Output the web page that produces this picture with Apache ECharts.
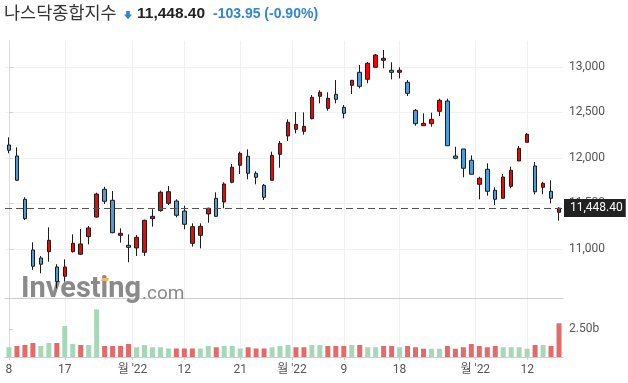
<!DOCTYPE html>
<html><head><meta charset="utf-8">
<script src="https://cdn.jsdelivr.net/npm/echarts@6/dist/echarts.min.js"></script>
<style>html,body{margin:0;padding:0;background:#fff}#c{width:628px;height:383px}</style>
</head><body><div id="c"></div>
<script>
// ---- data ----
const opens  = [12142,12021,11545,10988,10900,10969,10801,10699,10969,10941,11134,11350,11655,11534,11149,11039,11010,10963,11332,11420,11501,11526,11416,11061,11149,11384,11556,11515,11732,11919,12018,11831,11699,11754,12039,12241,12314,12292,12431,12677,12545,12699,12556,12798,12941,12864,12996,13073,12963,12941,12831,12523,12354,12376,12512,12625,12021,12098,11974,11710,11875,11644,11556,11688,11966,12171,11911,11677,11633,11402];
const closes = [12084,11754,11332,10809,10831,11094,10640,10801,11061,11054,11230,11603,11523,11178,11171,11017,11127,11314,11358,11622,11629,11369,11270,11244,11248,11446,11358,11713,11897,12050,11831,11787,11567,12028,12160,12391,12369,12347,12666,12721,12655,12644,12490,12853,12787,13040,13131,13095,12941,12963,12710,12376,12380,12424,12633,12134,11996,11886,11820,11776,11633,11545,11790,11864,12105,12259,11628,11721,11556,11448];
const lows   = [12050,11746,11317,10768,10732,10859,10567,10640,10960,10933,11050,11343,11493,11172,11068,10853,10922,10922,11244,11409,11482,11347,11215,11024,11006,11288,11350,11446,11721,11823,11765,11710,11537,11754,11892,12186,12270,12255,12424,12600,12519,12600,12435,12702,12765,12820,12990,12985,12864,12875,12680,12354,12350,12343,12460,12134,11985,11787,11820,11545,11585,11482,11556,11666,11966,12171,11600,11600,11501,11310];
const highs  = [12226,12116,11567,11072,10922,11237,10831,10885,11160,11218,11251,11618,11683,11636,11226,11160,11152,11321,11435,11640,11691,11545,11475,11281,11281,11453,11622,11732,11933,12068,12094,11853,11713,12068,12186,12424,12504,12501,12691,12743,12721,12856,12581,12856,13021,13054,13142,13186,13051,12996,12856,12537,12490,12497,12651,12651,12123,12098,12028,11793,11941,11677,11823,11903,12131,12274,11955,11738,11754,11457];
// volume in billions
const volumes = [0.87,0.98,1.07,1.25,0.98,1.25,1.25,2.77,1.16,1.07,1.07,4.26,0.98,0.98,0.98,1.16,0.87,1.07,0.87,0.87,0.76,0.76,0.76,0.76,0.76,0.98,0.87,0.98,0.98,0.76,0.87,0.76,0.76,0.87,0.98,1.07,0.87,0.87,1.07,1.07,0.98,0.98,0.98,1.07,1.07,0.87,0.87,0.98,0.98,0.87,0.98,0.87,0.74,0.74,0.74,0.98,0.74,0.87,1.16,0.98,0.87,0.98,0.87,0.87,0.87,0.74,1.07,1.07,0.98,3.01];
// 1 = close above previous close (green volume bar), 0 = below (red)
const volumeUp = [1,0,0,0,1,1,0,1,1,0,1,1,0,0,0,0,1,1,1,1,1,0,0,0,1,1,0,1,1,1,0,0,0,1,1,1,0,0,1,1,0,0,0,1,0,1,1,0,0,1,0,0,0,1,1,0,0,0,0,0,0,0,1,1,1,1,0,1,0,0];
const xTickPositions = [0, 7, 15.5, 22, 29, 35.5, 42, 49, 58.5, 65];
const xTickLabels = ['8', '17', "월 '22", '12', '21', "월 '22", '9', '18', "월 '22", '12'];
const priceTicks = [11000, 11500, 12000, 12500, 13000];
const volumeTicks = [2.5];
const lastPriceText = '11,448.40';
const lastPrice = 11448.40;
const titleName = '나스닥종합지수';
const changeText = '-103.95 (-0.90%)';

// ---- chart ----
const chart = echarts.init(document.getElementById('c'), null, {renderer: 'canvas'});
const FONT = 'Roboto, "Noto Sans CJK KR", sans-serif';
const candleData = opens.map((o, i) => [i, o, closes[i], lows[i], highs[i]]);
const volData = volumes.map((v, i) => ({
  value: [i, v],
  itemStyle: {color: volumeUp[i] ? '#a6d8b8' : '#e36a6a'}
}));
const fmtNum = v => Number(v).toLocaleString('en-US');
const xLabelFor = v => { const k = xTickPositions.indexOf(v); return k >= 0 ? xTickLabels[k] : ''; };

const gridLineColor = '#f1f1f1';
const commonX = {
  type: 'value', min: -0.5, max: 69.5,
  splitLine: {show: true, lineStyle: {color: gridLineColor, width: 1}},
  axisTick: {show: false, customValues: xTickPositions},
  axisLabel: {show: false, customValues: xTickPositions}
};

chart.setOption({
  animation: false,
  textStyle: {fontFamily: FONT},
  grid: [
    {left: 5, right: 65, top: 41, bottom: 85, outerBoundsMode: 'none', containLabel: false},
    {left: 5, right: 65, top: 299, bottom: 26, outerBoundsMode: 'none', containLabel: false}
  ],
  xAxis: [
    Object.assign({}, commonX, {
      gridIndex: 0, position: 'bottom',
      axisLine: {show: true, onZero: false, lineStyle: {color: '#cfcfcf', width: 1}}
    }),
    Object.assign({}, commonX, {
      gridIndex: 1, position: 'bottom',
      axisLine: {show: true, onZero: false, lineStyle: {color: '#cfcfcf', width: 1}},
      axisTick: {show: true, length: 3, customValues: xTickPositions, lineStyle: {color: '#cfcfcf'}},
      axisLabel: {show: true, customValues: xTickPositions, formatter: xLabelFor,
        color: '#555', fontSize: 12, margin: 7, fontFamily: FONT, hideOverlap: false}
    })
  ],
  yAxis: [
    {
      type: 'value', gridIndex: 0, position: 'right', min: 10460, max: 13285,
      axisLine: {show: true, lineStyle: {color: '#dcdcdc'}},
      axisTick: {show: true, length: 4, customValues: priceTicks, lineStyle: {color: '#cfcfcf'}},
      axisLabel: {show: true, customValues: priceTicks, formatter: fmtNum, color: '#555', fontSize: 12, margin: 6, fontFamily: FONT},
      splitLine: {show: true, lineStyle: {color: gridLineColor}}
    },
    {
      type: 'value', gridIndex: 1, position: 'right', min: 0, max: 5.18,
      axisLine: {show: true, lineStyle: {color: '#dcdcdc'}},
      axisTick: {show: true, length: 4, customValues: volumeTicks, lineStyle: {color: '#cfcfcf'}},
      axisLabel: {show: true, customValues: volumeTicks, formatter: v => Number(v).toFixed(2) + 'b', color: '#555', fontSize: 12, margin: 6, fontFamily: FONT},
      splitLine: {show: false}
    }
  ],
  series: [
    {
      type: 'candlestick', xAxisIndex: 0, yAxisIndex: 0,
      data: candleData, barWidth: 4,
      itemStyle: {color: '#ff0000', color0: '#4d9ddc', borderColor: '#1c1c1c', borderColor0: '#1c1c1c', borderWidth: 1},
      markLine: {
        silent: true, symbol: ['none', 'none'], animation: false,
        lineStyle: {type: [7, 4], color: '#555', width: 1},
        label: {show: true, position: 'end', distance: 1, formatter: lastPriceText,
          backgroundColor: '#222', color: '#fff', fontSize: 12, fontFamily: FONT,
          padding: [3, 3, 3, 6]},
        data: [{yAxis: lastPrice}]
      },
      z: 3
    },
    {
      type: 'bar', xAxisIndex: 1, yAxisIndex: 1,
      data: volData, barWidth: 5
    }
  ],
  graphic: [
    {type: 'text', x: 4, y: 12, style: {text: titleName, fontSize: 17.5, fill: '#333', fontFamily: '"Noto Sans CJK KR", sans-serif', verticalAlign: 'middle', textVerticalAlign: 'middle'}},
    {type: 'polygon', shape: {points: [[126.2,11],[129.8,11],[129.8,14.5],[132,14.5],[128,19.3],[124,14.5],[126.2,14.5]]}, style: {fill: '#2f86d6'}},
    {type: 'text', x: 137, y: 13.6, style: {text: lastPriceText, fontSize: 15.5, fontWeight: 'bold', fill: '#222', fontFamily: '"Liberation Sans", Arial, sans-serif', verticalAlign: 'middle', textVerticalAlign: 'middle'}},
    {type: 'text', x: 213, y: 14.2, style: {text: changeText, fontSize: 14, fontWeight: 'bold', fill: '#2f86d6', fontFamily: '"Liberation Sans", Arial, sans-serif', verticalAlign: 'middle', textVerticalAlign: 'middle'}},
    {type: 'text', x: 21, y: 290, z: 1, style: {text: 'Investing', fontSize: 29, fontWeight: 'bold', fill: '#8a8a8a', fontFamily: 'Roboto, sans-serif', verticalAlign: 'middle', textVerticalAlign: 'middle'}},
    {type: 'text', x: 142, y: 294, z: 1, style: {text: '.com', fontSize: 19, fill: '#8a8a8a', fontFamily: 'Roboto, sans-serif', verticalAlign: 'middle', textVerticalAlign: 'middle'}},
    {type: 'polygon', z: 1, shape: {points: [[102,278],[109,278],[108,281],[101,281]]}, style: {fill: '#f3b95f'}}
  ]
});
</script></body></html>
